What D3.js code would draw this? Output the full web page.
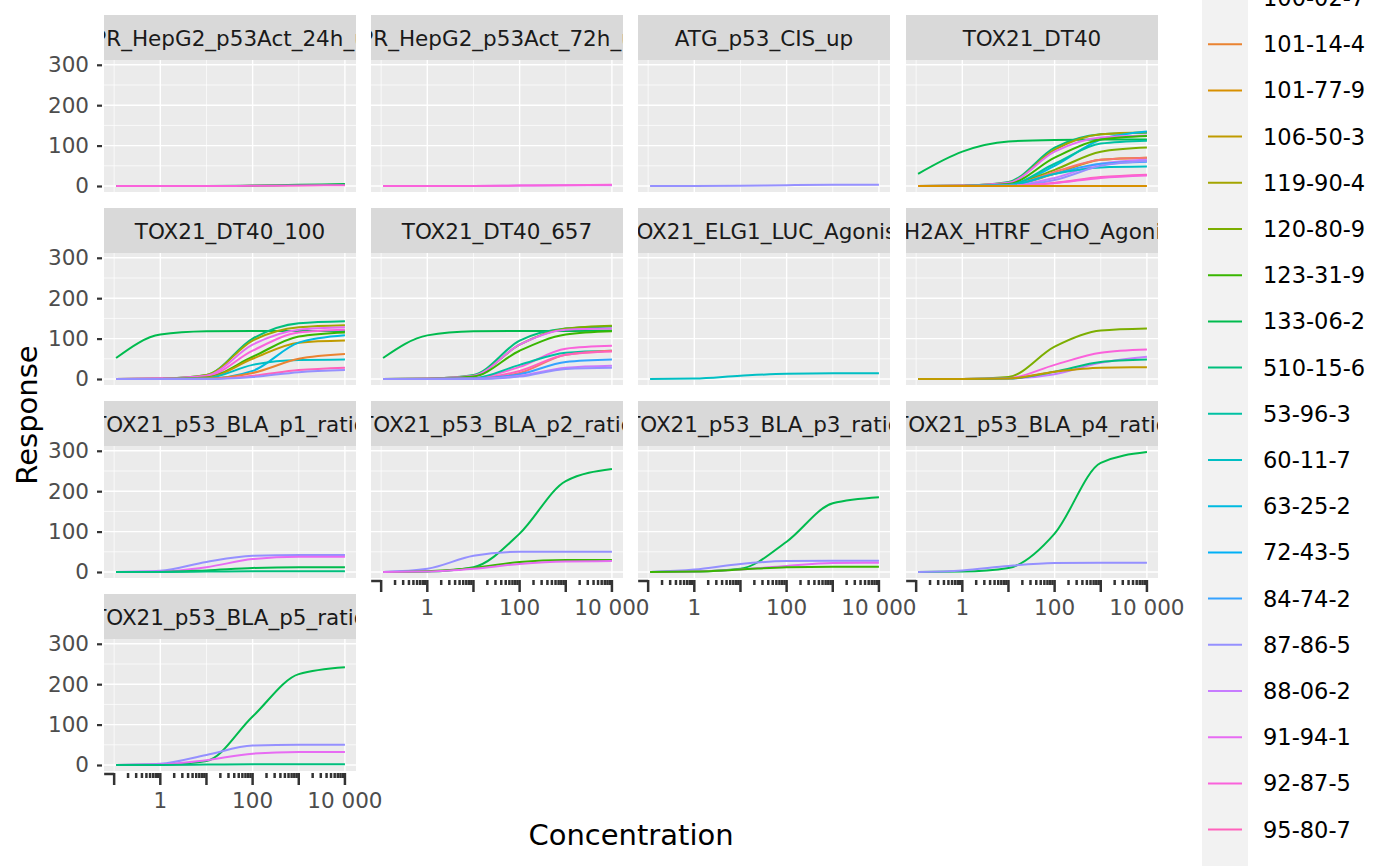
<!DOCTYPE html>
<html><head><meta charset="utf-8">
<script src="https://cdn.jsdelivr.net/npm/d3@7"></script>
<style>body{margin:0;background:#fff}text{font-family:"DejaVu Sans",sans-serif}</style>
</head><body>
<svg id="chart" width="1400" height="866"></svg>
<script>
// chemicals in legend order (last one falls below the visible area)
var chemicals = ['100-02-7','101-14-4','101-77-9','106-50-3','119-90-4','120-80-9','123-31-9',
  '133-06-2','510-15-6','53-96-3','60-11-7','63-25-2','72-43-5','84-74-2','87-86-5','88-06-2',
  '91-94-1','92-87-5','95-80-7','98-95-3'];
var palette = ['#F8766D','#EA8331','#D89000','#C09B00','#A3A500','#7CAE00','#39B600','#00BB4E',
  '#00BF7D','#00C1A3','#00BFC4','#00BAE0','#00B0F6','#35A2FF','#9590FF','#C77CFF','#E76BF3',
  '#FA62DB','#FF62BC','#FF6C91'];
var panelNames = ['APR_HepG2_p53Act_24h_up','APR_HepG2_p53Act_72h_up','ATG_p53_CIS_up','TOX21_DT40',
  'TOX21_DT40_100','TOX21_DT40_657','TOX21_ELG1_LUC_Agonist','TOX21_H2AX_HTRF_CHO_Agonist_ratio',
  'TOX21_p53_BLA_p1_ratio','TOX21_p53_BLA_p2_ratio','TOX21_p53_BLA_p3_ratio','TOX21_p53_BLA_p4_ratio',
  'TOX21_p53_BLA_p5_ratio'];
// concentrations where responses were read
var concs = [0.11, 1, 10, 100, 1000, 10000];
// responses per panel: [chemical, values at concs]
var p1 = [['100-02-7',[0,0,0,0.5,2,3]],['133-06-2',[0,0,0,1,3,5]],['92-87-5',[0,0,0,0.5,1.5,2]]];
var p2 = [['88-06-2',[0,0,0,1,2,2]],['92-87-5',[0,0,0,1,2,3]]];
var p3 = [['87-86-5',[0,0,0.5,2,3,3]]];
var p4 = [['133-06-2',[30,85,110,114,115,115]],['510-15-6',[0,1,10,95,128,132]],
  ['119-90-4',[0,1,8,90,128,133]],['63-25-2',[0,0,3,50,115,135]],['91-94-1',[0,1,8,85,120,125]],
  ['123-31-9',[0,0,5,70,115,124]],['120-80-9',[0,0,3,40,85,95]],['106-50-3',[0,0,2,30,65,70]],
  ['100-02-7',[0,0,2,35,65,70]],['88-06-2',[0,0,1,20,55,65]],['84-74-2',[0,0,2,30,55,60]],
  ['53-96-3',[0,0,3,55,105,112]],['60-11-7',[0,0,2,30,46,48]],['87-86-5',[0,0,1,15,50,62]],
  ['95-80-7',[0,0,0,8,22,28]],['92-87-5',[0,0,0,7,20,26]],['101-77-9',[0,0,0,0,0,0]]];
var p5 = [['133-06-2',[52,110,118,119,119,119]],['510-15-6',[0,1,10,100,138,143]],
  ['119-90-4',[0,1,10,95,128,133]],['91-94-1',[0,1,8,85,122,128]],['92-87-5',[0,1,6,70,115,122]],
  ['123-31-9',[0,0,4,55,105,115]],['106-50-3',[0,0,3,50,90,95]],['63-25-2',[0,0,1,20,90,108]],
  ['60-11-7',[0,0,2,35,47,48]],['101-14-4',[0,0,1,15,50,62]],['95-80-7',[0,0,0,8,22,28]],
  ['87-86-5',[0,0,0,5,17,22]]];
var p6 = [['133-06-2',[52,108,118,119,119,120]],['510-15-6',[0,1,10,95,125,130]],
  ['120-80-9',[0,1,8,85,125,132]],['91-94-1',[0,1,8,85,122,125]],['123-31-9',[0,0,6,70,110,118]],
  ['92-87-5',[0,0,2,30,75,82]],['53-96-3',[0,0,2,35,65,70]],['100-02-7',[0,0,1,15,60,70]],
  ['95-80-7',[0,0,1,20,60,68]],['84-74-2',[0,0,1,12,42,48]],['88-06-2',[0,0,0,8,28,33]],
  ['87-86-5',[0,0,0,6,25,28]]];
var p7 = [['60-11-7',[0,1,8,13,14,14]]];
var p8 = [['120-80-9',[0,0,5,80,120,125]],['92-87-5',[0,0,2,35,65,73]],['88-06-2',[0,0,1,12,40,55]],
  ['510-15-6',[0,0,1,18,42,48]],['106-50-3',[0,0,1,18,28,29]]];
var p9 = [['87-86-5',[0,3,25,40,42,42]],['91-94-1',[0,1,12,32,38,38]],['133-06-2',[0,0,4,10,12,12]],
  ['510-15-6',[0,0,1,2,2,2]]];
var p10 = [['133-06-2',[0,1,12,95,225,255]],['87-86-5',[0,8,40,50,50,50]],
  ['123-31-9',[0,2,10,25,30,30]],['91-94-1',[0,1,8,20,26,27]]];
var p11 = [['133-06-2',[0,1,8,75,170,185]],['87-86-5',[0,6,20,27,28,28]],
  ['91-94-1',[0,1,6,15,22,23]],['123-31-9',[0,1,6,12,13,13]]];
var p12 = [['133-06-2',[0,1,10,95,270,297]],['87-86-5',[0,4,15,22,23,23]]];
var p13 = [['133-06-2',[0,1,10,120,225,242]],['87-86-5',[0,3,25,48,50,50]],
  ['91-94-1',[0,1,12,28,32,32]],['510-15-6',[0,0,1,2,2,2]]];
var panelData = [p1,p2,p3,p4,p5,p6,p7,p8,p9,p10,p11,p12,p13];
var xBreaks = [1, 100, 10000];
var yBreaks = [0, 100, 200, 300];

var svg = d3.select('#chart');
var color = d3.scaleOrdinal().domain(chemicals).range(palette);

var colX = [104, 371, 638, 906], pw = 252;
var rowY = [15, 208, 401, 594], sh = 45, ph = 132;
var x = d3.scaleLog().domain([Math.pow(10, -1.22), Math.pow(10, 4.24)]).range([0, pw]);
var y = d3.scaleLinear().domain([-14.85, 311.85]).range([ph, 0]);
var fmt = function(d){ return d == 10000 ? '10 000' : String(d); };
var line = d3.line().x(function(d){ return x(d[0]); }).y(function(d){ return y(d[1]); })
  .curve(d3.curveMonotoneX);

var logTicks = [];
for (var e = -1; e <= 4; e++) for (var k = 1; k <= 9; k++) {
  var v = k * Math.pow(10, e);
  if (v <= 10000) logTicks.push({v: v, major: k == 1});
}

panelData.forEach(function(curves, i){
  var col = i % 4, row = Math.floor(i / 4);
  var g = svg.append('g').attr('transform', 'translate(' + colX[col] + ',' + rowY[row] + ')');
  // strip
  var cid = 'clip' + i;
  g.append('clipPath').attr('id', cid).append('rect').attr('width', pw).attr('height', sh);
  g.append('rect').attr('width', pw).attr('height', sh).attr('fill', '#D9D9D9');
  g.append('text').attr('clip-path', 'url(#' + cid + ')').attr('x', pw / 2).attr('y', sh / 2 + 8)
    .attr('text-anchor', 'middle').attr('font-size', 21.5).attr('fill', '#1A1A1A').text(panelNames[i]);
  var p = g.append('g').attr('transform', 'translate(0,' + sh + ')');
  p.append('rect').attr('width', pw).attr('height', ph).attr('fill', '#EBEBEB');
  [50, 150, 250].forEach(function(v){
    p.append('line').attr('x1', 0).attr('x2', pw).attr('y1', y(v)).attr('y2', y(v))
      .attr('stroke', '#fff').attr('stroke-width', 0.7);
  });
  [0.1, 10, 1000].forEach(function(v){
    p.append('line').attr('y1', 0).attr('y2', ph).attr('x1', x(v)).attr('x2', x(v))
      .attr('stroke', '#fff').attr('stroke-width', 0.7);
  });
  yBreaks.forEach(function(v){
    p.append('line').attr('x1', 0).attr('x2', pw).attr('y1', y(v)).attr('y2', y(v))
      .attr('stroke', '#fff').attr('stroke-width', 1.4);
  });
  xBreaks.forEach(function(v){
    p.append('line').attr('y1', 0).attr('y2', ph).attr('x1', x(v)).attr('x2', x(v))
      .attr('stroke', '#fff').attr('stroke-width', 1.4);
  });
  curves.forEach(function(c){
    p.append('path').datum(concs.map(function(cc, j){ return [cc, c[1][j]]; }))
      .attr('d', line).attr('fill', 'none').attr('stroke', color(c[0])).attr('stroke-width', 2);
  });
  if (col == 0) {
    var ya = p.append('g').call(d3.axisLeft(y).tickValues(yBreaks).tickSize(5).tickPadding(10));
    ya.select('.domain').remove();
    ya.selectAll('line').attr('stroke', '#333').attr('stroke-width', 2.2).attr('transform', 'translate(-2,0)');
    ya.selectAll('text').attr('font-size', 21.5).attr('fill', '#4D4D4D');
  }
  var hasAxis = (col == 0 && row == 3) || (col > 0 && row == 2);
  if (hasAxis) {
    var xa = p.append('g').attr('transform', 'translate(0,' + ph + ')');
    xa.selectAll('line').data(logTicks).enter().append('line')
      .attr('x1', function(d){ return x(d.v); }).attr('x2', function(d){ return x(d.v); })
      .attr('y1', 2).attr('y2', function(d){ return d.major ? 14 : 7; })
      .attr('stroke', '#333').attr('stroke-width', 2.5);
    xa.append('line').attr('x1', x(0.1) - 10).attr('x2', x(0.1)).attr('y1', 3).attr('y2', 3)
      .attr('stroke', '#333').attr('stroke-width', 2.5);
    xa.selectAll('text').data(xBreaks).enter().append('text')
      .attr('x', function(d){ return x(d); }).attr('y', 37).attr('text-anchor', 'middle')
      .attr('font-size', 21.5).attr('fill', '#4D4D4D').text(fmt);
  }
});

svg.append('text').attr('x', 631).attr('y', 845).attr('text-anchor', 'middle')
  .attr('font-size', 29).attr('fill', '#000').text('Concentration');
svg.append('text').attr('transform', 'translate(37,415) rotate(-90)').attr('text-anchor', 'middle')
  .attr('font-size', 29).attr('fill', '#000').text('Response');

// legend
var lg = svg.append('g');
lg.append('rect').attr('x', 1202).attr('y', -40).attr('width', 46).attr('height', 950).attr('fill', '#F2F2F2');
chemicals.forEach(function(c, i){
  var yy = -2 + i * 46.2;
  lg.append('line').attr('x1', 1208).attr('x2', 1242).attr('y1', yy).attr('y2', yy)
    .attr('stroke', color(c)).attr('stroke-width', 2);
  lg.append('text').attr('x', 1263).attr('y', yy + 8).attr('font-size', 22.5).attr('fill', '#000').text(c);
});
</script>
</body></html>
